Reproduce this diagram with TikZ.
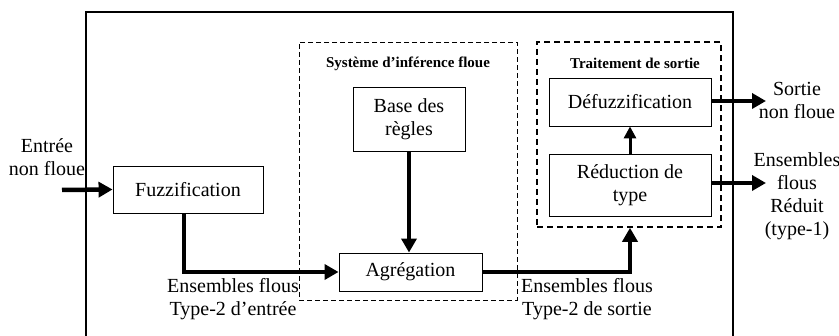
\documentclass[tikz,border=0pt]{standalone}
\usepackage{fontspec}
\setmainfont{Liberation Serif}
\usetikzlibrary{arrows.meta}
\begin{document}
\begin{tikzpicture}[x=1pt,y=-1pt,
  block/.style={draw,line width=0.9pt,inner sep=0pt,font=\fontsize{20}{23}\selectfont,align=center},
  lbl/.style={font=\fontsize{20}{23}\selectfont,align=center,inner sep=0pt},
  ttl/.style={font=\fontsize{15}{18}\selectfont\bfseries,inner sep=0pt},
  flow/.style={line width=4.5pt,-{Triangle[length=14pt,width=15pt]}},
  thinflow/.style={line width=3pt,-{Triangle[length=12pt,width=12pt]}}]
\useasboundingbox (0,0) rectangle (839,336);
% outer frame, open at the bottom edge
\draw[line width=1.8pt] (86,337) -- (86,12) -- (733,12) -- (733,337);
% inference group
\node[draw,dashed,line width=0.9pt,dash pattern=on 5pt off 3pt,minimum width=218pt,minimum height=258pt,inner sep=0pt] (inf) at (408,171) {};
\node[ttl] (inftitle) at (408,64) {Système d’inférence floue};
% output processing group
\node[draw,line width=1.6pt,dash pattern=on 6pt off 4pt,minimum width=184pt,minimum height=185pt,inner sep=0pt] (outg) at (629,134.5) {};
\node[ttl] (outtitle) at (635,63) {Traitement de sortie};
% blocks
\node[block,minimum width=150pt,minimum height=47pt] (fuzz) at (188,189.5) {Fuzzification};
\node[block,minimum width=112pt,minimum height=64pt] (base) at (409,119) {Base des\\règles};
\node[block,minimum width=143pt,minimum height=38pt] (agr) at (410.5,272) {Agrégation};
\node[block,minimum width=162pt,minimum height=48pt] (defuz) at (630,102) {Défuzzification};
\node[block,minimum width=162pt,minimum height=62pt] (red) at (630,185) {Réduction de\\type};
% end points of the free connectors
\coordinate (inA) at (62,190);
\coordinate (outA) at (766,101);
\coordinate (outB) at (766,183);
% texts
\node[lbl] (intxt) at (47,157) {Entrée\\non floue};
\node[lbl] (sortie) at (797,100) {Sortie\\non floue};
\node[lbl] (ens) at (797,196) {Ensembles\\flous\\Réduit\\(type-1)};
\node[lbl] (e1) at (233,299) {Ensembles flous\\Type-2 d’entrée};
\node[lbl] (e2) at (587,299) {Ensembles flous\\Type-2 de sortie};
% connectors
\draw[flow] (inA) -- (fuzz.west);
\draw[flow] (fuzz.south -| 184,0) -- (184,272) -- (agr.west);
\draw[flow] (base.south) -- (agr.north -| base.south);
\draw[flow] (agr.east) -- (630,272) -- (outg.south -| 630,0);
\draw[thinflow] (red.north) -- (defuz.south);
\draw[flow] (defuz.east |- outA) -- (outA);
\draw[flow] (red.east |- outB) -- (outB);
\end{tikzpicture}
\end{document}
